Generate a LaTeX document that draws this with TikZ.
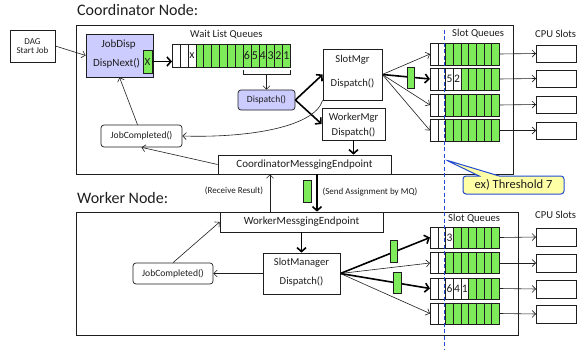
\documentclass[tikz,border=0pt]{standalone}
\usepackage{fontspec}
\setmainfont{Carlito}
\usetikzlibrary{arrows.meta,shapes.callouts}

\definecolor{qgreen}{RGB}{125,235,90}
\definecolor{lav}{RGB}{204,204,255}
\definecolor{tipblue}{RGB}{35,75,210}
\definecolor{noteyellow}{RGB}{255,255,165}
\definecolor{ink}{RGB}{30,30,30}

\newcommand\fs[1]{\fontsize{#1}{#1}\selectfont}

% one slot queue: #1 name, #2 west x, #3 centre y, #4 height, #5 labels of the white head cells
\newcommand\slotrow[5]{%
  \foreach \k in {0,...,8}
    \node[cell, fill=qgreen, minimum height=#4pt] at ({#2+\k*7.667},#3) {};
  \foreach \t [count=\k from 0] in {#5}
    \node[cell, fill=white, minimum height=#4pt] at ({#2+\k*7.667},#3) {\t};
  \node[qframe, minimum width=69pt, minimum height=#4pt] (#1) at (#2,#3) {};
}

\begin{document}
\begin{tikzpicture}[x=1pt,y=-1pt,
  every node/.style={text=ink},
  frame/.style={draw=ink, line width=0.8pt, inner sep=0pt, anchor=north west},
  box/.style={draw=ink, line width=0.7pt, inner sep=0pt, align=center, fill=white},
  rbox/.style={box, rounded corners=3pt},
  cell/.style={draw=ink, line width=0.5pt, inner sep=0pt, minimum width=7.667pt,
    anchor=west, font=\fs{11.5}},
  wcellst/.style={cell, minimum width=7.867pt, minimum height=23pt, font=\fs{12}},
  qframe/.style={draw=ink, line width=0.7pt, inner sep=0pt, anchor=west},
  msg/.style={draw=ink, line width=0.5pt, fill=qgreen, inner sep=0pt},
  cpu/.style={draw=ink, line width=0.7pt, inner sep=0pt, minimum width=40pt, anchor=west},
  thinarr/.style={draw=ink, line width=0.6pt, -{Straight Barb[length=3.5pt,width=7pt]}},
  thickarr/.style={draw=black, line width=1.6pt, -{Straight Barb[length=4pt,width=9pt]}},
  lbl/.style={font=\fs{10.6}, inner sep=0pt},
  small/.style={font=\fs{9}, inner sep=0pt}
]
\useasboundingbox (0,0) rectangle (577,350);

% ---------- headings and node frames ----------
\node[anchor=west, font=\fs{16}, inner sep=0pt] (ctitle) at (77,10) {Coordinator Node:};
\node[anchor=west, font=\fs{16}, inner sep=0pt] (wtitle) at (77,198) {Worker Node:};
\node[frame, minimum width=437pt, minimum height=149pt] (coord) at (76,25) {};
\node[frame, minimum width=442pt, minimum height=123pt] (worker) at (76,212) {};

% ---------- coordinator ----------
\node[box, minimum width=45pt, minimum height=32pt, font=\fs{9}] (dag) at (32.5,46) {DAG\\Start Job};
\node[box, fill=lav, minimum width=67pt, minimum height=43pt] (jobdisp) at (119.5,55.5) {};
\node[font=\fs{11}, inner sep=0pt] (jdname) at (118.5,45) {JobDisp};
\node[font=\fs{11}, inner sep=0pt] (jdnext) at (116.5,63) {DispNext()};
\node[msg, minimum width=9pt, minimum height=23pt, font=\fs{11}] (jdx) at (147.5,61.5) {X};

% wait list queue
\foreach \k in {0,1,2}
  \node[wcellst, fill=white] at ({172+\k*7.867},55.5) {};
\node[wcellst, fill=white] at ({172+2*7.867},55.5) {x};
\foreach \t [count=\k from 3] in {{},{},{},{},{},{},6,5,4,3,2,1}
  \node[wcellst, fill=qgreen] at ({172+\k*7.867},55.5) {\t};
\node[qframe, minimum width=118pt, minimum height=23pt] (wl) at (172,55.5) {};
\node[lbl, anchor=west] (wltitle) at (190,35) {Wait List Queues};
\coordinate (brl) at (243,70);
\coordinate (brr) at (290,70);
\coordinate (brm) at (266.5,74);
\draw[ink, line width=0.7pt] (brl) -- (243,74) -- (290,74) -- (brr);

\node[rbox, fill=lav, minimum width=57pt, minimum height=20pt, font=\fs{9.5}] (dispatch) at (266.5,100) {Dispatch()};
\node[box, minimum width=59pt, minimum height=51pt] (slotmgr) at (352.5,74.5) {};
\node[font=\fs{10.6}, inner sep=0pt] (smname) at (352.5,60) {SlotMgr};
\node[font=\fs{10.6}, inner sep=0pt] (smdisp) at (352.5,83) {Dispatch()};
\node[box, minimum width=63pt, minimum height=32pt] (wmgr) at (353.5,124) {};
\node[font=\fs{10.6}, inner sep=0pt] (wmname) at (353.5,118) {WorkerMgr};
\node[font=\fs{10.6}, inner sep=0pt] (wmdisp) at (353.5,132) {Dispatch()};
\node[box, minimum width=173pt, minimum height=19pt, font=\fs{11}] (cme) at (304.5,164.5) {CoordinatorMessgingEndpoint};
\node[rbox, minimum width=81pt, minimum height=22pt, font=\fs{9.6}] (jc) at (141.5,136) {JobCompleted()};

% slot queues and CPU slots of the coordinator
\node[lbl, anchor=west] (csq) at (452,34) {Slot Queues};
\node[lbl, anchor=west] (ccpu) at (535,34) {CPU Slots};
\slotrow{cq1}{430}{54}{22}{{},{}}
\slotrow{cq2}{430}{79}{22}{{},{},5,2}
\slotrow{cq3}{430}{105}{22}{{},{}}
\slotrow{cq4}{430}{130.5}{22}{{},{}}
\node[cpu, minimum height=17pt] (cc1) at (536,53.5) {};
\node[cpu, minimum height=17pt] (cc2) at (536,78.5) {};
\node[cpu, minimum height=17pt] (cc3) at (536,104.5) {};
\node[cpu, minimum height=17pt] (cc4) at (536,130.5) {};

% coordinator connectors
\draw[thinarr] (dag.east) -- (jobdisp.west);
\draw[thickarr] (jdx.east) -- (wl.west |- jdx.east);
\draw[thinarr] (brm) -- (dispatch.north);
\draw[thickarr] (dispatch.east) -- (slotmgr.west);
\draw[thickarr] (dispatch.east) -- (wmgr.west);
\draw[thickarr] (wmgr.south) -- (cme.north -| wmgr.south);
\draw[thinarr] ([xshift=-4pt]jc.north) -- (jobdisp.south);
\draw[thinarr] (cme.west) -- (jc.south);
\draw[thinarr] (slotmgr.south west) .. controls (314,128) and (245,138) .. (jc.east);
\draw[thinarr] (slotmgr.east) -- (cq1.west);
\draw[thickarr] (slotmgr.east) -- (cq2.west);
\draw[thinarr] (slotmgr.east) -- (cq3.west);
\draw[thinarr] (slotmgr.east) -- (cq4.west);
\node[msg, minimum width=7pt, minimum height=21pt] (cmsg) at (410.5,77.5) {};
\foreach \r in {1,2,3,4}
  \draw[thinarr] (cq\r.east) -- (cc\r.west);

% ---------- messaging between the nodes ----------
\node[box, minimum width=163pt, minimum height=20pt, font=\fs{11}] (wme) at (301.5,222) {WorkerMessgingEndpoint};
\draw[thickarr] ([xshift=12.5pt]cme.south) -- ([xshift=12.5pt]cme.south |- wme.north);
\draw[thinarr] ([xshift=-31.5pt]wme.north) -- ([xshift=-31.5pt]wme.north |- cme.south);
\node[msg, minimum width=8pt, minimum height=22pt] (sendmsg) at (307,191) {};
\node[small] (recv) at (234,191) {(Receive Result)};
\node[small] (send) at (370,192) {(Send Assignment by MQ)};

% ---------- worker ----------
\node[box, minimum width=77pt, minimum height=41pt] (sm) at (301.5,273.5) {};
\node[font=\fs{10.6}, inner sep=0pt] (smwname) at (301.5,263) {SlotManager};
\node[font=\fs{10.6}, inner sep=0pt] (smwdisp) at (301.5,281) {Dispatch()};
\node[rbox, minimum width=80pt, minimum height=21pt, font=\fs{9.6}] (jcw) at (173,273.5) {JobCompleted()};

\node[lbl, anchor=west] (wsq) at (448,219) {Slot Queues};
\node[lbl, anchor=west] (wcpu) at (535,215) {CPU Slots};
\slotrow{wq1}{430}{237.5}{21}{{},{},3}
\slotrow{wq2}{430}{263}{21}{{},{}}
\slotrow{wq3}{430}{288.5}{21}{{},{},6,4,1}
\slotrow{wq4}{430}{313.5}{21}{{},{}}
\node[cpu, minimum height=18pt] (wc1) at (536,237) {};
\node[cpu, minimum height=18pt] (wc2) at (536,263) {};
\node[cpu, minimum height=18pt] (wc3) at (536,289) {};
\node[cpu, minimum height=18pt] (wc4) at (536,314) {};

\draw[thickarr] (wme.south -| sm.north) -- (sm.north);
\draw[thinarr] (sm.west) -- (jcw.east);
\draw[thinarr] (jcw.north) -- (wme.west);
\draw[thickarr] (sm.east) -- (wq1.west);
\draw[thinarr] (sm.east) -- (wq2.west);
\draw[thickarr] (sm.east) -- (wq3.west);
\draw[thinarr] (sm.east) -- (wq4.west);
\node[msg, minimum width=7pt, minimum height=22pt] (wmsg1) at (394,251) {};
\node[msg, minimum width=8pt, minimum height=21pt] (wmsg3) at (397,282.5) {};
\foreach \r in {1,2,3,4}
  \draw[thinarr] (wq\r.east) -- (wc\r.west);

% ---------- threshold marker ----------
\coordinate (thtop) at (444,30);
\coordinate (thbot) at (444,350);
\draw[tipblue, line width=1pt, dash pattern=on 4pt off 2.5pt] (thtop) -- (thbot);
\node[rectangle callout, rounded corners=3pt, draw=tipblue, line width=1pt, fill=noteyellow,
  minimum width=101pt, minimum height=18pt, inner sep=0pt, font=\fs{12.5},
  callout absolute pointer={(446,160)}, callout pointer width=20pt] (note) at (513.5,185) {ex) Threshold 7};
\end{tikzpicture}
\end{document}
